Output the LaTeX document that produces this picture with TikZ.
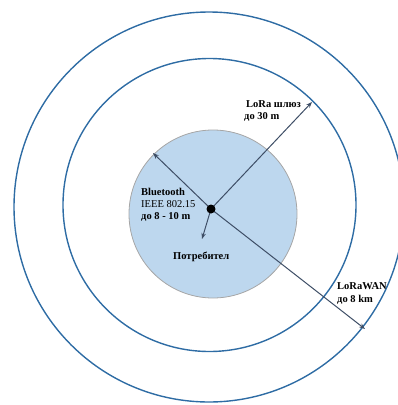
\documentclass[tikz,border=0pt]{standalone}
\usepackage{fontspec}
\setmainfont{Liberation Serif}
\usetikzlibrary{arrows.meta}
\definecolor{ringblue}{HTML}{2E6CA4}
\definecolor{fillblue}{HTML}{BDD7EE}
\definecolor{arrowgray}{HTML}{3E4E66}
\tikzset{
  ring/.style={circle, draw=ringblue, line width=1.4pt, inner sep=0pt},
  lbl/.style={anchor=base west, inner sep=0pt, font=\fontsize{10.5}{12}\selectfont},
  blbl/.style={lbl, font=\fontsize{10.5}{12}\selectfont\bfseries},
  arr/.style={draw=arrowgray, line width=1pt, -{Stealth[length=6pt,width=4.5pt]}},
}
\begin{document}
\begin{tikzpicture}[x=1pt,y=-1pt]
\useasboundingbox (0,0) rectangle (398,405);
\clip (0,0) rectangle (398,405);
\node[ring, minimum size=390pt] (outer) at (209,207) {};
\node[ring, minimum size=293pt] (middle) at (209.5,205) {};
\node[circle, draw=gray!70, fill=fillblue, line width=0.8pt, minimum size=168pt, inner sep=0pt] (inner) at (213,214) {};
\coordinate (ctr) at (211,209);
\coordinate (tipA) at (312,102);
\coordinate (tipB) at (153,153);
\coordinate (tipC) at (365,329);
\coordinate (tipD) at (202,239);
\draw[arr] (ctr) -- (tipA);
\draw[arr] (ctr) -- (tipB);
\draw[arr] (ctr) -- (tipC);
\draw[arr] (ctr) -- (tipD);
\node[circle, fill=black, minimum size=9pt, inner sep=0pt] (dot) at (ctr) {};
\node[blbl] (bt) at (141,195) {Bluetooth};
\node[lbl] (ieee) at (141,207) {IEEE 802.15};
\node[blbl] (btr) at (141,219) {до 8 - 10 m};
\node[blbl] (cons) at (173,259) {Потребител};
\node[blbl] (lora) at (246,107) {LoRa шлюз};
\node[blbl] (lorar) at (244,119) {до 30 m};
\node[blbl] (lw) at (337,289) {LoRaWAN};
\node[blbl] (lwr) at (337,302) {до 8 km};
\end{tikzpicture}
\end{document}
